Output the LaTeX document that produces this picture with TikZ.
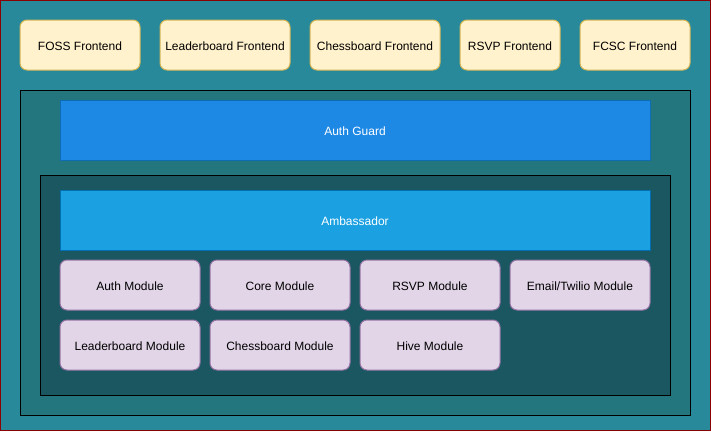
\documentclass[tikz,border=0pt]{standalone}
\usepackage{fontspec}
\setmainfont{Liberation Sans}
\definecolor{bgteal}{HTML}{28899A}
\definecolor{bgred}{HTML}{8B0000}
\definecolor{midteal}{HTML}{24767E}
\definecolor{innteal}{HTML}{1B5760}
\definecolor{authfill}{HTML}{1E88E5}
\definecolor{authline}{HTML}{0E6CB4}
\definecolor{ambfill}{HTML}{1BA1E2}
\definecolor{ambline}{HTML}{006EAF}
\definecolor{modfill}{HTML}{E1D5E7}
\definecolor{modline}{HTML}{9673A6}
\definecolor{fefill}{HTML}{FFF2CC}
\definecolor{feline}{HTML}{D6B656}
\tikzset{
  fe/.style={draw=feline, fill=fefill, rounded corners=7pt, line width=1pt},
  mod/.style={draw=modline, fill=modfill, rounded corners=7pt, line width=1pt},
  lbl/.style={font=\fontsize{12}{14}\selectfont, text=black, yshift=-1pt},
  wlbl/.style={font=\fontsize{12}{14}\selectfont, text=white, yshift=-1pt},
}
\begin{document}
\begin{tikzpicture}[x=1pt,y=-1pt]
\useasboundingbox (0,0) rectangle (711,431);
\fill[bgteal] (0,0) rectangle (711,431);
\draw[bgred, line width=1.2pt] (0.6,0.6) rectangle (710.4,430.4);
% frontends
\draw[fe] (20,20) rectangle (140,70) node[midway,lbl] (foss) {FOSS Frontend};
\draw[fe] (160,20) rectangle (290,70) node[midway,lbl] (lead) {Leaderboard Frontend};
\draw[fe] (310,20) rectangle (440,70) node[midway,lbl] (chess) {Chessboard Frontend};
\draw[fe] (460,20) rectangle (560,70) node[midway,lbl] (rsvp) {RSVP Frontend};
\draw[fe] (580,20) rectangle (690,70) node[midway,lbl] (fcsc) {FCSC Frontend};
% middle box
\draw[fill=midteal, draw=black, line width=1pt] (20,90) rectangle (690,415);
\draw[fill=authfill, draw=authline, line width=1pt] (60,100) rectangle (650,160) node[midway,wlbl] (auth) {Auth Guard};
% inner box
\draw[fill=innteal, draw=black, line width=1pt] (40,175) rectangle (670,395);
\draw[fill=ambfill, draw=ambline, line width=1pt] (60,190) rectangle (650,250) node[midway,wlbl] (amb) {Ambassador};
% modules
\draw[mod] (60,260) rectangle (200,310) node[midway,lbl] (m1) {Auth Module};
\draw[mod] (210,260) rectangle (350,310) node[midway,lbl] (m2) {Core Module};
\draw[mod] (360,260) rectangle (500,310) node[midway,lbl] (m3) {RSVP Module};
\draw[mod] (510,260) rectangle (650,310) node[midway,lbl] (m4) {Email/Twilio Module};
\draw[mod] (60,320) rectangle (200,370) node[midway,lbl] (m5) {Leaderboard Module};
\draw[mod] (210,320) rectangle (350,370) node[midway,lbl] (m6) {Chessboard Module};
\draw[mod] (360,320) rectangle (500,370) node[midway,lbl] (m7) {Hive Module};
\end{tikzpicture}
\end{document}
